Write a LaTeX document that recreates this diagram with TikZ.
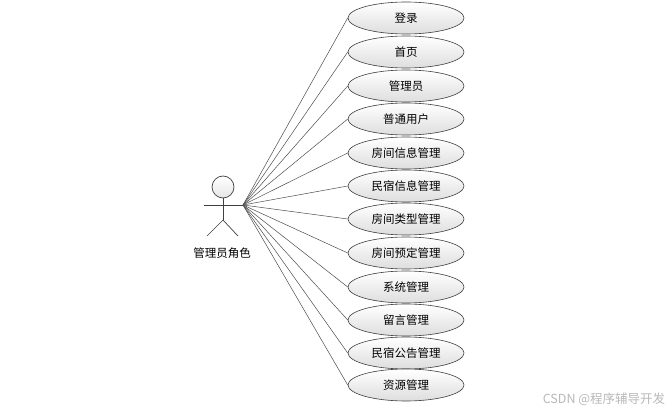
\documentclass[tikz,border=0pt]{standalone}
\usepackage{fontspec}
\setmainfont{Noto Sans CJK SC}
\usetikzlibrary{shapes.geometric}
\begin{document}
\begin{tikzpicture}[x=1pt,y=-1pt,
  usecase/.style={ellipse,draw=black!75,line width=0.6pt,minimum width=116pt,minimum height=32pt,inner sep=0pt,
    top color=white,bottom color=black!13,font=\fontsize{11.5}{12}\selectfont},
  conn/.style={draw=black!70,line width=0.5pt},
  actorline/.style={draw=black!75,line width=0.7pt}]
\useasboundingbox (0,0) rectangle (672,414);
% actor
\node[circle,draw=black!75,line width=0.7pt,minimum size=22pt,inner sep=0pt,top color=white,bottom color=black!10] (head) at (223,187) {};
\coordinate (hip) at (223,220);
\coordinate (lhand) at (204,205);
\coordinate (hand) at (243,205);
\coordinate (lfoot) at (207,236);
\coordinate (rfoot) at (238,236);
\draw[actorline] (head.south) -- (hip);
\draw[actorline] (lhand) -- (hand);
\draw[actorline] (lfoot) -- (hip) -- (rfoot);
\node[font=\fontsize{11.5}{12}\selectfont] (alabel) at (222,253) {管理员角色};
% use cases
\foreach \i/\y/\t in {1/18/登录,2/52/首页,3/86/管理员,4/119/普通用户,5/153/房间信息管理,6/186/民宿信息管理,7/219/房间类型管理,8/253/房间预定管理,9/287/系统管理,10/320/留言管理,11/353/民宿公告管理,12/385/资源管理}{
  \node[usecase] (u\i) at (406,\y) {\t};
}
\foreach \i in {1,...,12}{
  \draw[conn] (hand) -- (u\i.west);
}
\node[text=black!28,font=\fontsize{12.5}{13}\selectfont] (wm) at (604,399) {CSDN @程序辅导开发};
\end{tikzpicture}
\end{document}
